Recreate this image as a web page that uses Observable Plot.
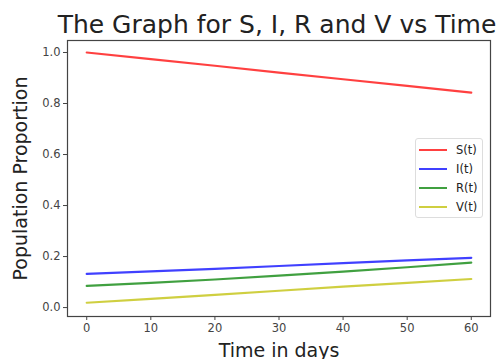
<!DOCTYPE html>
<html>
<head>
<meta charset="utf-8">
<script src="https://cdn.jsdelivr.net/npm/d3@7"></script>
<script src="https://cdn.jsdelivr.net/npm/@observablehq/plot@0.6"></script>
<style>
  html, body { margin: 0; padding: 0; background: #fff; }
  body { width: 501px; height: 359px; position: relative; overflow: hidden; font-family: "DejaVu Sans", sans-serif; }
  #title { position: absolute; left: 0; top: 12px; width: 501px; text-align: center; padding-left: 53px; box-sizing: border-box; font-size: 25px; line-height: 25px; color: #222; white-space: nowrap; }
  #chart { position: absolute; left: 0; top: 38px; }
  #legend { position: absolute; left: 415px; top: 138px; width: 68px; height: 80px; border: 1px solid #ddd; border-radius: 3px; background: rgba(255,255,255,0.8); box-sizing: border-box; font-size: 11.5px; color: #222; }
  .row { position: absolute; left: 2px; height: 14px; }
  .sw { position: absolute; left: 1px; top: 6px; width: 28px; height: 2px; }
  .lb { position: absolute; left: 38px; top: 0; line-height: 14px; }
</style>
</head>
<body>
<div id="title">The Graph for S, I, R and V vs Time</div>
<div id="chart"></div>
<div id="legend"></div>
<script>
const days = [0, 10, 20, 30, 40, 50, 60];
const S = [1.000, 0.974, 0.948, 0.921, 0.895, 0.869, 0.843];
const I = [0.132, 0.142, 0.152, 0.163, 0.174, 0.185, 0.195];
const R = [0.085, 0.097, 0.110, 0.125, 0.141, 0.158, 0.176];
const V = [0.019, 0.034, 0.050, 0.066, 0.082, 0.097, 0.112];
const seriesNames = ["S(t)", "I(t)", "R(t)", "V(t)"];
const seriesColors = ["#ff0000", "#0000ff", "#008000", "#bfbf00"];
const xTicks = [0, 10, 20, 30, 40, 50, 60];
const yTicks = [0.0, 0.2, 0.4, 0.6, 0.8, 1.0];

const seriesValues = [S, I, R, V];
const data = [];
seriesNames.forEach((name, k) => {
  days.forEach((d, i) => data.push({series: name, day: d, value: seriesValues[k][i]}));
});

const plot = Plot.plot({
  width: 501,
  height: 321,
  marginLeft: 67,
  marginRight: 11,
  marginTop: 2,
  marginBottom: 43,
  style: {fontFamily: "DejaVu Sans, sans-serif", fontSize: "11.5px", color: "#444", background: "#fff"},
  x: {domain: [-3, 63]},
  y: {domain: [-0.035, 1.047]},
  color: {domain: seriesNames, range: seriesColors},
  marks: [
    Plot.line(data, {x: "day", y: "value", z: "series", stroke: "series", strokeWidth: 2.2, strokeOpacity: 0.75}),
    Plot.frame({stroke: "#444", strokeWidth: 1.2}),
    Plot.axisX({ticks: xTicks, tickSize: 4, tickPadding: 3, tickFormat: d => String(d), label: "Time in days", labelAnchor: "center", labelArrow: false, labelOffset: 40, fontSize: 11.5}),
    Plot.axisY({ticks: yTicks, tickSize: 4, tickPadding: 3, tickFormat: d => d.toFixed(1), label: "Population Proportion", labelAnchor: "center", labelArrow: false, labelOffset: 54, fontSize: 11.5})
  ]
});
document.getElementById("chart").appendChild(plot);
plot.querySelectorAll("g[aria-label='x-axis label'] text, g[aria-label='y-axis label'] text").forEach(t => { t.style.fontSize = "19px"; t.style.fill = "#222"; });

const legend = document.getElementById("legend");
seriesNames.forEach((name, k) => {
  const row = document.createElement("div");
  row.className = "row";
  row.style.top = (4 + k * 19) + "px";
  const sw = document.createElement("div");
  sw.className = "sw";
  sw.style.background = seriesColors[k];
  sw.style.opacity = 0.75;
  const lb = document.createElement("div");
  lb.className = "lb";
  lb.textContent = name;
  row.appendChild(sw); row.appendChild(lb);
  legend.appendChild(row);
});
</script>
</body>
</html>
